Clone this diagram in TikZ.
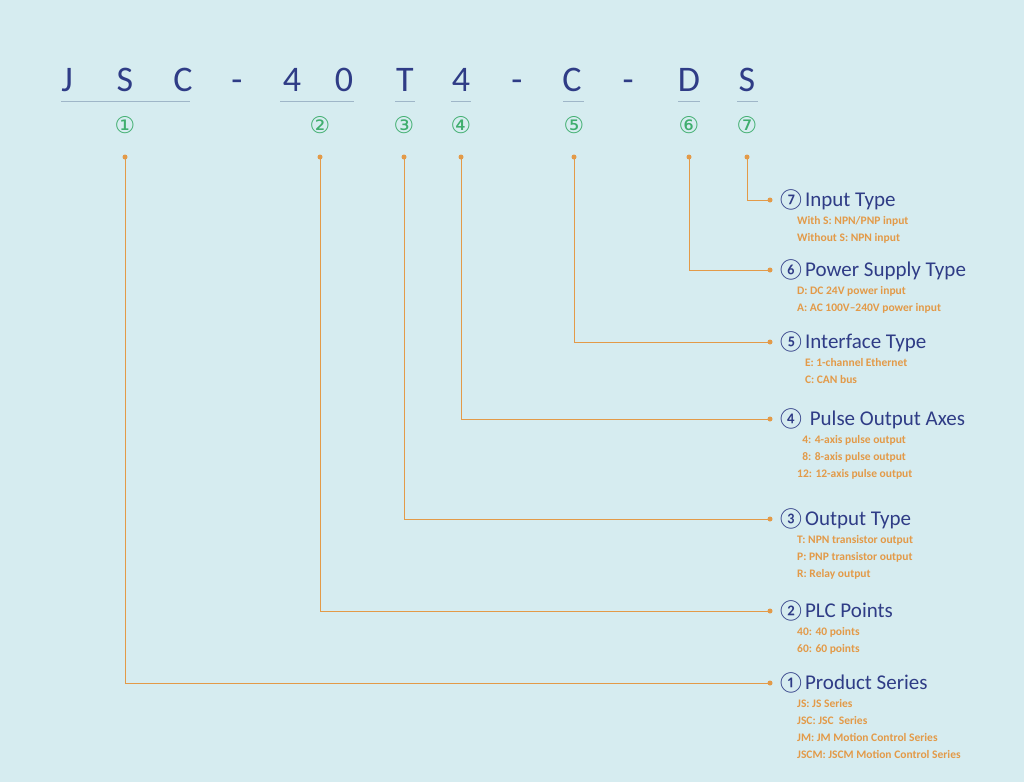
\documentclass[tikz,border=0pt]{standalone}
\usepackage{fontspec}
\setmainfont{Carlito}
\newfontfamily\sym{DejaVu Sans}
\definecolor{bg}{HTML}{D6ECF0}
\definecolor{navy}{HTML}{2F3C86}
\definecolor{org}{HTML}{E39A48}
\definecolor{grn}{HTML}{3FAE6E}
\definecolor{ul}{HTML}{9FB6C8}
\begin{document}
\begin{tikzpicture}[x=1pt,y=-1pt,
 code/.style={text=navy,font=\fontsize{36}{36}\selectfont,anchor=base},
 num/.style={text=grn,font=\sym\fontsize{23}{23}\selectfont},
 ttl/.style={text=navy,font=\fontsize{21}{21}\selectfont,anchor=west},
 sub/.style={text=org,font=\bfseries\fontsize{11.5}{17}\selectfont,anchor=north west,align=left,inner sep=0pt},
 ln/.style={org,line width=0.9pt},
 dot/.style={circle,fill=org,inner sep=0pt,minimum size=5pt}]
\fill[bg] (0,0) rectangle (1024,782);
\useasboundingbox (0,0) rectangle (1024,782);
\foreach \x/\c [count=\i] in {67/J,125/S,183/C,237/-,292/4,344/0,405/T,461/4,517/-,572/C,628/-,689/D,747/S}
  \node[code] (c\i) at (\x,91) {\c};
\foreach \a/\b in {61/190,280/354,395/415,451/471,563/584,678/700,737/758}
  \draw[ul,line width=1pt] (\a,101) -- (\b,101);
\foreach \x/\n/\y/\t/\s [count=\i] in {
 125/①/683/{①Product Series}/{JS: JS Series\\JSC: JSC\ \ Series\\JM: JM Motion Control Series\\JSCM: JSCM Motion Control Series},
 320/②/611/{②PLC Points}/{40: 40 points\\60: 60 points},
 404/③/519/{③Output Type}/{T: NPN transistor output\\P: PNP transistor output\\R: Relay output},
 461/④/419/{④ Pulse Output Axes}/{\ \ 4: 4-axis pulse output\\\ \ 8: 8-axis pulse output\\12: 12-axis pulse output},
 574/⑤/342/{⑤Interface Type}/{\ \ \ E: 1-channel Ethernet\\\ \ \ C: CAN bus},
 689/⑥/270/{⑥Power Supply Type}/{D: DC 24V power input\\A: AC 100V–240V power input},
 747/⑦/200/{⑦Input Type}/{With S: NPN/PNP input\\Without S: NPN input}} {
  \node[num] (n\i) at (\x,125) {\n};
  \node[dot] (s\i) at (\x,157) {};
  \node[dot] (e\i) at (770,\y) {};
  \draw[ln] (s\i.center) |- (e\i.center);
  \node[ttl,inner sep=0pt] (t\i) at (777,\y) {\t};
  \node[sub] (d\i) at (797,\y+16) {\s};
}
\end{tikzpicture}
\end{document}
